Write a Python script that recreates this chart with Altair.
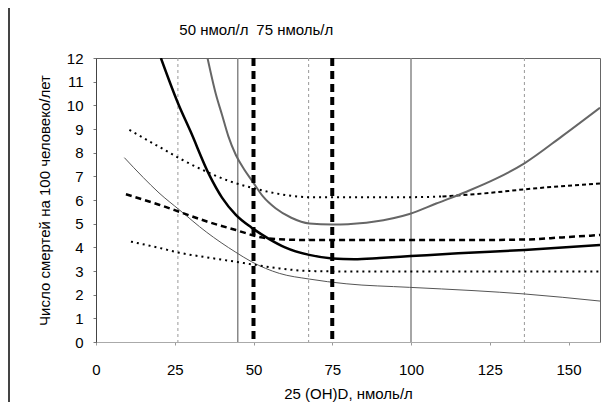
import altair as alt
import pandas as pd

# ---- data ----
black_x = [20.6, 26, 30, 36, 40, 44.4, 49.4, 55, 60, 67.7, 75, 82, 90, 100, 115, 136, 160]
black_y = [12, 10.1, 8.9, 7.05, 6.1, 5.37, 4.83, 4.35, 4.0, 3.68, 3.53, 3.5, 3.55, 3.63, 3.75, 3.89, 4.1]

upper_x = [35.4, 38, 40, 42, 44.4, 47, 49.4, 53, 57, 62, 67.7, 75, 80, 88, 99.5, 108, 117.6, 127, 136, 148, 160]
upper_y = [12, 10.5, 9.6, 8.7, 7.9, 7.3, 6.84, 6.15, 5.65, 5.25, 5.01, 4.97, 4.98, 5.08, 5.41, 5.85, 6.35, 6.9, 7.55, 8.7, 9.9]

dot_hi_x = [10.6, 20, 26.5, 35, 42.3, 50, 57.1, 67.7, 80, 100, 110]
dot_hi_y = [8.96, 8.25, 7.76, 7.2, 6.8, 6.5, 6.28, 6.12, 6.12, 6.12, 6.15]
dash_hi_x = [110, 125, 136, 160]
dash_hi_y = [6.15, 6.3, 6.45, 6.7]

dash_x = [9.5, 20, 26.5, 35, 44.4, 52.9, 60, 67.7, 100, 120, 136, 148, 160]
dash_y = [6.24, 5.8, 5.5, 5.1, 4.73, 4.41, 4.33, 4.31, 4.31, 4.31, 4.33, 4.42, 4.52]

dot_lo_x = [11.1, 20, 26.5, 35, 44.4, 50, 58.2, 67.7, 80, 160]
dot_lo_y = [4.24, 3.98, 3.77, 3.58, 3.39, 3.27, 3.11, 3.0, 2.98, 2.98]

thin_x = [9.0, 15, 20, 26.5, 35, 44.4, 49.4, 58.2, 67.7, 79.4, 99.5, 120, 136, 160]
thin_y = [7.79, 6.95, 6.3, 5.58, 4.65, 3.79, 3.39, 2.9, 2.66, 2.46, 2.31, 2.17, 2.03, 1.73]

grid_dashed = [26, 67.5, 136]
grid_solid = [45, 100]
thresholds = [50, 75]
threshold_labels = ["50 нмол/л", "75 нмоль/л"]

x_ticks = [0, 25, 50, 75, 100, 125, 150]
y_ticks = list(range(0, 13))

FONT = "Liberation Sans"

xs = alt.Scale(domain=[0, 160], nice=False, zero=False)
ys = alt.Scale(domain=[0, 12], nice=False)

x_axis = alt.Axis(values=x_ticks, grid=False, domainColor="#aaaaaa",
                  tickColor="#999999", tickSize=3, labelPadding=17,
                  titlePadding=9, labelFlush=False, labelOverlap=False)
y_axis = alt.Axis(values=y_ticks, grid=False, domainColor="#444444",
                  tickColor="#777777", tickSize=3, labelPadding=10,
                  titlePadding=14, labelFlush=False, labelOverlap=False)
X_TITLE = "25 (OH)D, нмоль/л"
Y_TITLE = "Число смертей на 100 человеко/лет"


def X():
    return alt.X("x:Q", scale=xs, axis=x_axis, title=X_TITLE)


def Y():
    return alt.Y("y:Q", scale=ys, axis=y_axis, title=Y_TITLE)


def df(x, y):
    return pd.DataFrame({"x": x, "y": y})


def line(x, y, color, width, dash=None):
    kw = dict(color=color, strokeWidth=width, interpolate="monotone", clip=True)
    if dash:
        kw["strokeDash"] = dash
    return alt.Chart(df(x, y)).mark_line(**kw).encode(x=X(), y=Y())


base = alt.Chart(df([0], [0])).mark_point(opacity=0).encode(x=X(), y=Y())

g_dashed = alt.Chart(pd.DataFrame({"x": grid_dashed})).mark_rule(
    color="#999999", strokeWidth=1, strokeDash=[3, 3]).encode(x=X())
g_solid = alt.Chart(pd.DataFrame({"x": grid_solid})).mark_rule(
    color="#888888", strokeWidth=1.5).encode(x=X())

thr_df = pd.DataFrame({"x": thresholds, "label": threshold_labels})
thr = alt.Chart(thr_df).mark_rule(color="black", strokeWidth=4, strokeDash=[8, 5]).encode(x=X())
thr_text_a = alt.Chart(thr_df.iloc[[0]]).mark_text(
    align="right", baseline="middle", dx=-5, fontSize=15, font=FONT, color="black").encode(
    x=X(), y=alt.value(-28), text="label:N")
thr_text_b = alt.Chart(thr_df.iloc[[1]]).mark_text(
    align="right", baseline="middle", dx=1, fontSize=15, font=FONT, color="black").encode(
    x=X(), y=alt.value(-28), text="label:N")

frame = alt.Chart(df([0], [0])).mark_rule(color="#444444", strokeWidth=2).encode(
    x=alt.value(-87), y=alt.value(-58), y2=alt.value(361))

chart = alt.layer(
    base,
    g_dashed,
    g_solid,
    line(thin_x, thin_y, "#555555", 1),
    line(dot_lo_x, dot_lo_y, "black", 2, [2, 4]),
    line(dash_x, dash_y, "black", 2.5, [6, 4]),
    line(dot_hi_x, dot_hi_y, "black", 2, [2, 4]),
    line(dash_hi_x, dash_hi_y, "black", 2, [4, 3]),
    line(upper_x, upper_y, "#666666", 2),
    line(black_x, black_y, "black", 2.5),
    thr,
    thr_text_a,
    thr_text_b,
    frame,
).properties(
    width=504,
    height=284,
    autosize=alt.AutoSizeParams(type="none"),
    padding={"left": 88, "top": 50, "right": 4, "bottom": 60},
).configure_view(
    stroke="#666666", strokeWidth=1
).configure_axis(
    labelFont=FONT, titleFont=FONT, labelFontSize=15, titleFontSize=15,
    labelColor="black", titleColor="black", titleFontWeight="normal",
)

chart.save("out.html", embed_options={"renderer": "svg", "actions": False})
